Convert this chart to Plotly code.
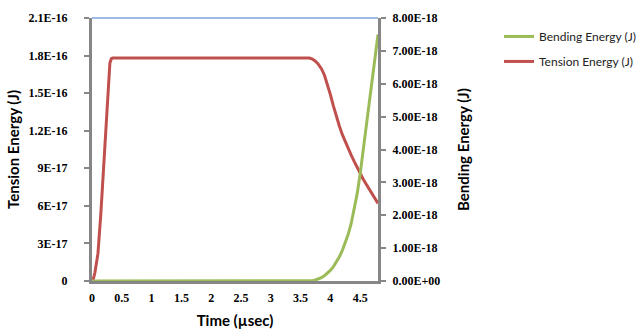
import plotly.graph_objects as go

# Tension energy (J), left axis
tension_time = [0, 0.025, 0.05, 0.075, 0.1, 0.15, 0.2, 0.25, 0.275, 0.3, 0.325, 0.35, 3.6, 3.65, 3.7, 3.75,
                3.8, 3.85, 3.9, 3.95, 4.0, 4.05, 4.1, 4.15, 4.2, 4.25, 4.3, 4.35, 4.4, 4.45, 4.5, 4.55,
                4.6, 4.65, 4.7, 4.75, 4.8]
tension_energy = [0, 0.2e-17, 0.7e-17, 1.4e-17, 2.2e-17, 5.5e-17, 9.5e-17, 14.0e-17, 16.2e-17, 17.4e-17,
                  17.75e-17, 17.8e-17, 17.8e-17, 17.8e-17, 17.72e-17, 17.55e-17, 17.3e-17, 16.95e-17,
                  16.45e-17, 15.75e-17, 14.9e-17, 14.0e-17, 13.15e-17, 12.4e-17, 11.7e-17, 11.1e-17,
                  10.55e-17, 10.05e-17, 9.55e-17, 9.05e-17, 8.6e-17, 8.15e-17, 7.75e-17, 7.35e-17,
                  6.95e-17, 6.55e-17, 6.2e-17]

# Bending energy (J), right axis
bending_time = [0, 3.6, 3.65, 3.7, 3.75, 3.8, 3.85, 3.9, 3.95, 4.0, 4.05, 4.1, 4.15, 4.2, 4.25, 4.3,
                4.35, 4.4, 4.45, 4.5, 4.55, 4.6, 4.65, 4.7, 4.75, 4.8]
bending_energy = [0, 0, 0.003e-18, 0.01e-18, 0.03e-18, 0.06e-18, 0.1e-18, 0.16e-18, 0.23e-18, 0.32e-18,
                  0.43e-18, 0.57e-18, 0.73e-18, 0.92e-18, 1.15e-18, 1.42e-18, 1.75e-18, 2.15e-18,
                  2.65e-18, 3.25e-18, 3.95e-18, 4.7e-18, 5.45e-18, 6.15e-18, 6.85e-18, 7.5e-18]

x_tickvals = [0, 0.5, 1, 1.5, 2, 2.5, 3, 3.5, 4, 4.5]
x_ticktext = ["0", "0.5", "1", "1.5", "2", "2.5", "3", "3.5", "4", "4.5"]
y1_tickvals = [0, 3e-17, 6e-17, 9e-17, 1.2e-16, 1.5e-16, 1.8e-16, 2.1e-16]
y1_ticktext = ["0", "3E-17", "6E-17", "9E-17", "1.2E-16", "1.5E-16", "1.8E-16", "2.1E-16"]
y2_tickvals = [0, 1e-18, 2e-18, 3e-18, 4e-18, 5e-18, 6e-18, 7e-18, 8e-18]
y2_ticktext = ["0.00E+00", "1.00E-18", "2.00E-18", "3.00E-18", "4.00E-18", "5.00E-18", "6.00E-18", "7.00E-18", "8.00E-18"]

GREEN = "#9BBB59"
RED = "#C0504D"
AXIS = "#868686"
tick_font = dict(family="Liberation Serif", size=12, color="#000000", weight="bold")
title_font = dict(family="Lato", size=15, color="#000000", weight="bold")

fig = go.Figure()
fig.add_trace(go.Scatter(x=bending_time, y=bending_energy, mode="lines", name="Bending Energy (J)",
                         line=dict(color=GREEN, width=3), yaxis="y2", legendgroup="b"))
fig.add_trace(go.Scatter(x=tension_time, y=tension_energy, mode="lines", name="Tension Energy (J)",
                         line=dict(color=RED, width=3), yaxis="y", legendgroup="t"))

fig.add_shape(type="line", xref="x domain", yref="y domain", x0=0, x1=1, y0=1, y1=1,
              line=dict(color="#7AA6D9", width=1.5))

fig.update_layout(
    width=643, height=330,
    margin=dict(l=92, r=265, t=18, b=49, autoexpand=False),
    paper_bgcolor="white", plot_bgcolor="white",
    showlegend=True,
    legend=dict(x=1.423, xanchor="left", y=0.985, yanchor="top",
                font=dict(family="Lato", size=12, color="#222222"),
                traceorder="grouped", tracegroupgap=6, bgcolor="rgba(0,0,0,0)"),
    xaxis=dict(range=[0, 4.8], tickvals=x_tickvals, ticktext=x_ticktext, showgrid=False, zeroline=False,
               showline=True, linecolor=AXIS, linewidth=3, ticks="", tickfont=tick_font, automargin=False,
               ticklabelstandoff=4,
               title=dict(text="Time (µsec)", font=title_font, standoff=12)),
    yaxis=dict(range=[0, 2.1e-16], tickvals=y1_tickvals, ticktext=y1_ticktext, showgrid=False, zeroline=False,
               showline=True, linecolor=AXIS, linewidth=3, ticks="outside", ticklen=5, tickcolor=AXIS,
               tickwidth=2, tickfont=tick_font, automargin=False, ticklabelstandoff=14,
               title=dict(text="Tension Energy (J)", font=title_font, standoff=6)),
    yaxis2=dict(range=[0, 8e-18], tickvals=y2_tickvals, ticktext=y2_ticktext, overlaying="y", side="right",
                showgrid=False, zeroline=False, showline=True, linecolor=AXIS, linewidth=3,
                ticks="outside", ticklen=5, tickcolor=AXIS, tickwidth=2, tickfont=tick_font, automargin=False,
                ticklabelstandoff=4,
                title=dict(text="Bending Energy (J)", font=title_font, standoff=20)),
)

fig.write_html("out.html", config={"displayModeBar": False},
               post_script="document.body.style.margin='0';document.body.style.padding='0';")
